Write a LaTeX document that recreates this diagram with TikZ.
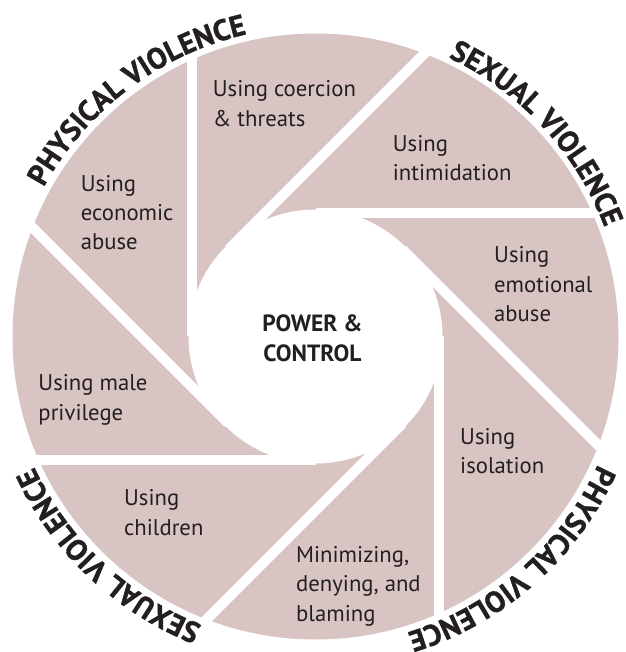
\documentclass[tikz,border=0pt]{standalone}
\usepackage{fontspec}
\setmainfont{PT Sans}
\newfontfamily\heavyfont[FakeBold=1.2]{PT Sans Bold}
\usetikzlibrary{decorations.text}
\definecolor{blade}{HTML}{D8C4C2}
\definecolor{ink}{HTML}{231F20}
\begin{document}
\begin{tikzpicture}[x=1pt,y=1pt,
  lbl/.style={anchor=north west, inner sep=0pt, align=left, text=ink,
    font=\fontsize{22.7}{29.3}\selectfont},
  centrelbl/.style={anchor=north, inner sep=0pt, align=center, text=ink,
    font=\bfseries\fontsize{23.5}{30}\selectfont},
  gapline/.style={draw=white, line width=10pt},
  curved/.style={decorate, decoration={text along path, text align=center,
    text color=ink, text={|\heavyfont\fontsize{29.5}{29.5}\selectfont|#1}}}
]
\useasboundingbox (-315.5,-315.5) rectangle (309.5,336.5);
% wheel
\fill[blade] (0,0) circle (303);
\foreach \k in {0,...,7}
  \draw[gapline, rotate=-45*\k] (-123,288) -- (-123,0);
\fill[white] (0,0) circle (127);
% curved labels
\path[curved=PHYSICAL VIOLENCE] (177:310) arc (177:77:310);
\path[curved=SEXUAL VIOLENCE] (87.6:309) arc (87.6:-2.4:309);
\path[curved=PHYSICAL VIOLENCE] (1.4:310) arc (1.4:-98.6:310);
\path[curved=SEXUAL VIOLENCE] (-88.3:310) arc (-88.3:-178.3:310);
% blade labels
\node[lbl] (coercion) at (-102.8,255.8) {Using coercion\\\& threats};
\node[lbl] (intimidation) at (77.2,201.5) {Using\\intimidation};
\node[lbl] (emotional) at (178.5,89.8) {Using\\emotional\\abuse};
\node[lbl] (isolation) at (144.5,-91.5) {Using\\isolation};
\node[lbl] (minimizing) at (-19.5,-209.9) {Minimizing,\\denying, and\\blaming};
\node[lbl] (children) at (-191.5,-153.2) {Using\\children};
\node[lbl] (male) at (-277.2,-38.2) {Using male\\privilege};
\node[lbl] (economic) at (-234.8,161.5) {Using\\economic\\abuse};
\node[centrelbl] (power) at (-3,21.5) {POWER \&\\CONTROL};
\end{tikzpicture}
\end{document}
